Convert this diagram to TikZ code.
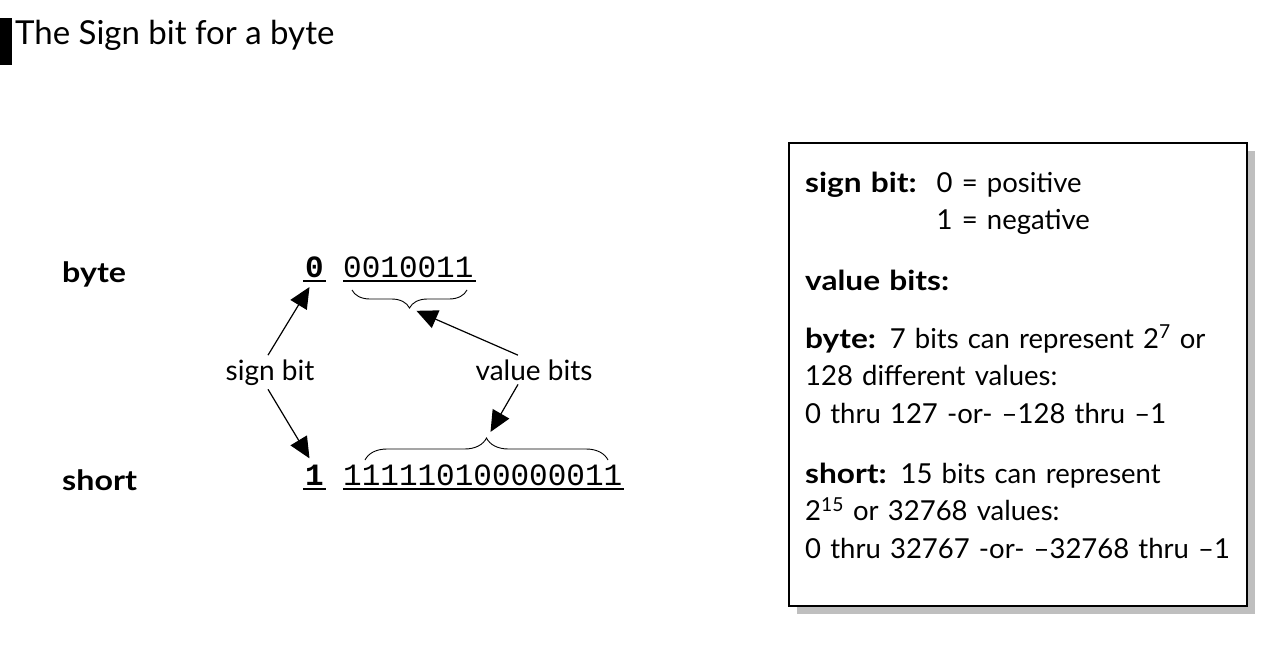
\documentclass[tikz,border=0pt]{standalone}
\usepackage{fontspec}
\setmainfont{Lato}[BoldFeatures={FakeStretch=1.15}]
\setmonofont{Liberation Mono}
\usetikzlibrary{arrows.meta,decorations.pathreplacing,shadows}
\tikzstyle{titlebar}=[fill=black,inner sep=0pt,minimum width=12pt,minimum height=47pt]
\tikzstyle{title}=[anchor=base west,inner sep=0pt,font=\fontsize{33}{38}\selectfont]
\tikzstyle{rowlabel}=[anchor=base west,inner sep=0pt,font=\fontsize{28}{32}\selectfont\bfseries]
\tikzstyle{signdigit}=[anchor=base west,inner sep=0pt,font=\fontsize{31}{36}\selectfont\ttfamily\bfseries]
\tikzstyle{bitstring}=[anchor=base west,inner sep=0pt,font=\fontsize{31}{36}\selectfont\ttfamily]
\tikzstyle{callout}=[anchor=base,inner sep=4pt,font=\fontsize{28}{32}\selectfont]
\tikzstyle{pointer} = [draw,line width=1.2pt,-{Triangle[length=21pt,width=19pt]}]
\tikzstyle{underbar} = [draw,line width=1.6pt]
\tikzstyle{bitbrace} = [draw,line width=0.9pt,decorate,decoration={brace,amplitude=18pt}]
\tikzstyle{legend}=[draw,line width=1.4pt,fill=white,minimum width=458pt,minimum height=463pt,drop shadow={shadow xshift=8pt,shadow yshift=-8pt,fill=black!25,opacity=1}]
\tikzstyle{legendtext}=[anchor=base west,inner sep=0pt,text width=435pt,align=left,font=\fontsize{27.5}{37.5}\selectfont]

\begin{document}
\begin{tikzpicture}[x=1pt,y=-1pt]
    \useasboundingbox (0,0) rectangle (1284,645);
    % Title with its black bar
    \node[titlebar] (bar) at (6,41.5) {};
    \node[title] (title) at (15,44) {The Sign bit for a byte};
    % First we draw the two rows: label, sign bit and value bits
    \foreach \y/\name/\sign/\bits in {277/byte/0/0010011, 485/short/1/111110100000011}{
        \node[rowlabel] (lbl\name) at (62,\y+5) {\name};
        \node[signdigit] (sb\name) at (305,\y) {\sign};
        \node[bitstring] (vb\name) at (343,\y) {\bits};
        \path[underbar] ([shift={(-2,4)}]sb\name.base west) -- ([shift={(2,4)}]sb\name.base east);
        \path[underbar] ([shift={(0,4)}]vb\name.base west) -- ([shift={(2,4)}]vb\name.base east);
    }
    % Braces over the value bits
    \coordinate (bytebraceL) at (352,290);
    \coordinate (bytebraceR) at (467,290);
    \coordinate (bytetip) at (410,308);
    \coordinate (shortbraceL) at (365,460);
    \coordinate (shortbraceR) at (608,460);
    \coordinate (shorttip) at (487,438);
    \path[bitbrace] (bytebraceR) -- (bytebraceL);
    \path[bitbrace,decoration={amplitude=22pt}] (shortbraceL) -- (shortbraceR);
    % Callouts and their arrows
    \node[callout] (signlbl) at (270,380) {sign bit};
    \node[callout] (valuelbl) at (534,380) {value bits};
    \path[pointer] ([xshift=-2pt]signlbl.north) -- ([shift={(-5,10)}]sbbyte.base);
    \path[pointer] ([xshift=-2pt]signlbl.south) -- ([xshift=-5pt,yshift=6pt]sbshort.north);
    \path[pointer,shorten >=7pt] ([xshift=-16pt]valuelbl.north) -- (bytetip);
    \path[pointer,shorten >=7pt] ([xshift=-16pt]valuelbl.south) -- (shorttip);
    % Legend box on the right
    \node[legend] (legend) at (1018,374.5) {};
    \node[legendtext] (signtxt) at (805,192) {\textbf{sign bit:}\hspace{20pt}0 = positive\\\hphantom{\textbf{sign bit:}\hspace{20pt}0}\llap{1} = negative};
    \node[legendtext] (valtxt) at (805,290) {\textbf{value bits:}};
    \node[legendtext] (bytetxt) at (805,348) {\textbf{byte:} 7 bits can represent 2\textsuperscript{7} or\\128 different values:\\0 thru 127 -or- –128 thru –1};
    \node[legendtext] (shorttxt) at (805,483) {\textbf{short:} 15 bits can represent\\2\textsuperscript{15} or 32768 values:\\0 thru 32767 -or- –32768 thru –1};
\end{tikzpicture}
\end{document}
